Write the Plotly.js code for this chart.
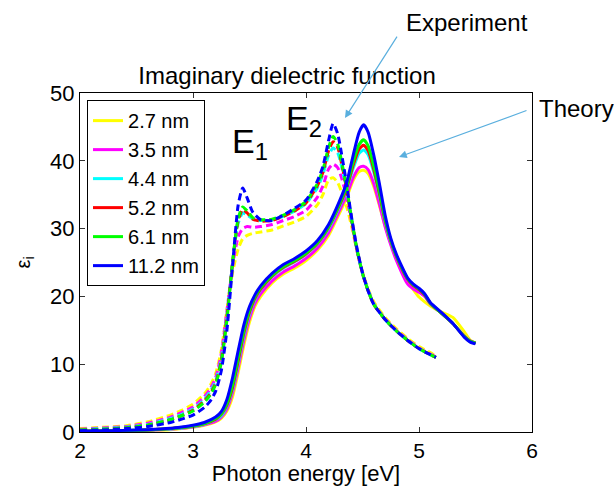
<!DOCTYPE html>
<html>
<head>
<meta charset="utf-8">
<script src="https://cdn.plot.ly/plotly-3.0.1.min.js"></script>
<style>html,body{margin:0;padding:0;background:#fff;}#chart{width:614px;height:486px;}</style>
</head>
<body>
<div id="chart"></div>
<script>
// Sizes (legend labels) and colours
const sizes = ["2.7 nm", "3.5 nm", "4.4 nm", "5.2 nm", "6.1 nm", "11.2 nm"];
const colors = ["#ffff00", "#ff00ff", "#00ffff", "#ff0000", "#00ff00", "#0000ff"];

// Experiment (dashed) photon energies [eV]
const xExp = [2.0, 2.2, 2.4, 2.6, 2.8, 2.9, 3.0, 3.1, 3.15, 3.2, 3.25, 3.3, 3.35, 3.4, 3.44, 3.48, 3.53, 3.6, 3.7, 3.8, 3.9, 4.0, 4.1, 4.15, 4.2, 4.24, 4.28, 4.32, 4.36, 4.4, 4.45, 4.5, 4.55, 4.6, 4.7, 4.8, 4.9, 5.0, 5.1, 5.15];
const exp27  = [0.5,0.7,0.9,1.5,2.5,3.2,4.1,5.6,6.8,8.6,12.0,18.0,23.5,27.0,28.5,29.0,29.3,29.5,29.8,30.4,31.0,31.8,33.5,35.0,37.2,37.5,36.8,35.2,33.2,30.6,26.8,23.6,21.1,19.2,16.9,15.2,13.8,12.6,11.7,11.2];
const exp35  = [0.4,0.6,0.8,1.3,2.2,2.9,3.7,5.2,6.3,8.0,11.5,17.8,24.5,28.8,30.0,30.3,30.2,30.3,30.6,31.2,31.8,32.7,34.6,36.3,38.8,39.5,39.0,37.2,34.6,31.3,26.8,23.4,20.9,18.9,16.7,15.0,13.6,12.4,11.5,11.1];
const exp44  = [0.35,0.5,0.7,1.1,2.0,2.6,3.4,4.8,5.9,7.5,10.8,17.3,25.0,30.8,32.3,32.0,31.4,31.2,31.3,31.8,32.6,33.7,36.0,38.0,40.8,41.9,41.2,38.8,35.6,31.7,27.0,23.4,20.9,18.9,16.6,14.9,13.5,12.3,11.4,11.0];
const exp52  = [0.3,0.4,0.6,1.0,1.8,2.4,3.2,4.6,5.6,7.2,10.5,17.0,25.0,31.2,32.8,32.3,31.4,31.1,31.2,31.8,32.6,33.8,36.3,38.3,41.5,42.8,42.0,39.2,35.8,31.7,27.0,23.4,20.8,18.8,16.6,14.9,13.5,12.3,11.4,11.0];
const exp61  = [0.3,0.4,0.6,1.0,1.8,2.4,3.1,4.4,5.4,7.0,10.2,16.5,25.0,31.5,33.2,32.6,31.6,31.3,31.4,32.0,32.8,34.0,36.6,38.7,42.0,43.6,42.5,39.5,36.0,31.8,27.0,23.4,20.8,18.8,16.6,14.9,13.5,12.3,11.4,11.0];
const exp112 = [0.2,0.3,0.5,0.8,1.4,1.9,2.5,3.6,4.5,6.0,9.0,15.0,24.5,33.5,36.0,34.5,32.4,31.3,31.2,32.0,33.0,34.2,37.0,39.2,43.0,45.5,44.0,40.5,36.5,32.0,27.2,23.5,20.8,18.8,16.6,14.9,13.5,12.3,11.4,11.0];

// Theory (solid) photon energies [eV]
const xThe = [2.0, 2.3, 2.6, 2.8, 2.9, 3.0, 3.1, 3.2, 3.25, 3.3, 3.35, 3.4, 3.45, 3.5, 3.55, 3.6, 3.7, 3.8, 3.9, 4.0, 4.1, 4.2, 4.3, 4.36, 4.42, 4.47, 4.51, 4.55, 4.6, 4.65, 4.7, 4.75, 4.8, 4.9, 4.95, 5.0, 5.05, 5.1, 5.2, 5.3, 5.4, 5.45, 5.5];
const the27  = [0.1,0.15,0.25,0.35,0.5,0.7,1.0,1.5,2.0,3.1,5.2,8.8,12.8,16.2,18.6,20.0,22.0,23.3,24.2,25.3,26.8,29.0,32.4,34.6,37.2,38.4,38.6,38.1,36.2,33.4,30.4,27.8,25.6,22.3,21.0,19.9,19.2,18.6,17.7,16.9,14.8,13.6,13.1];
const the35  = [0.1,0.15,0.25,0.4,0.55,0.75,1.05,1.6,2.2,3.4,5.8,9.5,13.5,16.8,19.0,20.4,22.3,23.6,24.5,25.6,27.1,29.4,32.8,35.0,37.6,39.0,39.2,38.7,36.6,33.6,30.3,27.6,25.3,21.8,21.1,20.6,20.0,18.9,17.5,16.0,14.2,13.5,13.1];
const the44  = [0.1,0.2,0.3,0.45,0.6,0.8,1.15,1.8,2.4,3.8,6.3,10.1,14.2,17.4,19.6,21.0,22.9,24.2,25.1,26.2,27.7,30.0,33.4,35.8,39.0,41.1,41.6,40.9,38.3,34.8,31.0,28.1,25.9,22.5,21.6,21.0,20.2,19.0,17.5,16.0,14.1,13.4,13.1];
const the52  = [0.1,0.2,0.3,0.5,0.65,0.85,1.2,1.9,2.6,4.0,6.6,10.5,14.6,17.7,19.8,21.1,23.0,24.3,25.2,26.3,27.8,30.2,33.6,36.0,39.5,41.7,42.3,41.5,38.7,35.1,31.2,28.2,25.9,22.5,21.6,21.0,20.2,19.0,17.5,16.0,14.1,13.4,13.1];
const the61  = [0.1,0.2,0.3,0.5,0.65,0.9,1.25,2.0,2.7,4.2,7.0,11.0,15.0,18.0,20.0,21.3,23.1,24.4,25.3,26.4,27.9,30.3,33.8,36.3,40.0,42.4,43.1,42.2,39.2,35.5,31.4,28.3,26.0,22.6,21.7,21.1,20.3,19.0,17.5,16.0,14.1,13.4,13.1];
const the112 = [0.1,0.2,0.35,0.55,0.75,1.0,1.4,2.2,3.0,4.8,8.0,12.0,15.8,18.5,20.3,21.6,23.4,24.7,25.6,26.7,28.2,30.6,34.2,36.8,41.0,44.2,45.3,44.2,40.8,36.6,32.0,28.6,26.2,22.7,21.8,21.2,20.4,19.1,17.6,16.0,14.0,13.3,13.0];

const expSeries = [exp27, exp35, exp44, exp52, exp61, exp112];
const theSeries = [the27, the35, the44, the52, the61, the112];

const FONT = "Arial, 'Liberation Sans', Helvetica, sans-serif";
const traces = [];
for (let i = 0; i < sizes.length; i++) {
  traces.push({
    x: xExp, y: expSeries[i], type: "scatter", mode: "lines",
    line: {color: colors[i], width: 3, dash: "7px,4px", shape: "spline", smoothing: 0.6},
    showlegend: false, hoverinfo: "skip"
  });
  traces.push({
    x: xThe, y: theSeries[i], type: "scatter", mode: "lines", name: sizes[i],
    line: {color: colors[i], width: 3, shape: "spline", smoothing: 0.6}
  });
}

const arrowColor = "#5aafde";
const layout = {
  width: 614, height: 486,
  margin: {l: 80, r: 82, t: 93, b: 54},
  paper_bgcolor: "#ffffff", plot_bgcolor: "#ffffff",
  font: {family: FONT, size: 22, color: "#000"},
  showlegend: true,
  title: {text: "Imaginary dielectric function", font: {family: FONT, size: 24, color: "#000"},
          x: 0.458, xref: "paper", xanchor: "center", y: 1 - 76/486, yref: "container", yanchor: "middle"},
  xaxis: {range: [2, 6], dtick: 1, tick0: 2, ticks: "inside", ticklen: 5, tickcolor: "#333",
          showline: true, linecolor: "#000", linewidth: 1, mirror: "ticks", showgrid: false, zeroline: false,
          tickfont: {family: FONT, size: 21, color: "#000"},
          title: {text: "Photon energy [eV]", font: {family: FONT, size: 22, color: "#000"}, standoff: 6}},
  yaxis: {range: [0, 50], dtick: 10, tick0: 0, ticks: "inside", ticklen: 5, tickcolor: "#333",
          showline: true, linecolor: "#000", linewidth: 1, mirror: "ticks", showgrid: false, zeroline: false,
          tickfont: {family: FONT, size: 22, color: "#000"},
          title: {text: "ε<sub>i</sub>", font: {family: FONT, size: 20, color: "#000"}}},
  legend: {x: 0.0155, y: 0.979, xanchor: "left", yanchor: "top", bgcolor: "#ffffff",
           bordercolor: "#000", borderwidth: 1, font: {family: FONT, size: 20, color: "#000"},
           itemwidth: 30, tracegroupgap: 0},
  annotations: [
    {text: "E<sub>1</sub>", x: 3.33, y: 42.5, xref: "x", yref: "y", xanchor: "left", yanchor: "middle",
     showarrow: false, font: {family: FONT, size: 34, color: "#000"}},
    {text: "E<sub>2</sub>", x: 3.805, y: 45.9, xref: "x", yref: "y", xanchor: "left", yanchor: "middle",
     showarrow: false, font: {family: FONT, size: 34, color: "#000"}},
    {text: "Experiment", x: 0.716, y: 1.2094, xref: "paper", yref: "paper", xanchor: "left", yanchor: "middle",
     showarrow: false, font: {family: FONT, size: 24, color: "#000"}},
    {text: "Theory", x: 1.012, y: 0.953, xref: "paper", yref: "paper", xanchor: "left", yanchor: "middle",
     showarrow: false, font: {family: FONT, size: 24, color: "#000"}},
    {text: "", x: 4.345, y: 46.3, xref: "x", yref: "y", ax: 53, ay: -83, showarrow: true,
     arrowhead: 2, arrowsize: 1.3, arrowwidth: 1.2, arrowcolor: arrowColor},
    {text: "", x: 4.823, y: 40.56, xref: "x", yref: "y", ax: 129, ay: -47, showarrow: true,
     arrowhead: 2, arrowsize: 1.3, arrowwidth: 1.2, arrowcolor: arrowColor}
  ]
};

Plotly.newPlot("chart", traces, layout, {staticPlot: true, displayModeBar: false});
</script>
</body>
</html>
